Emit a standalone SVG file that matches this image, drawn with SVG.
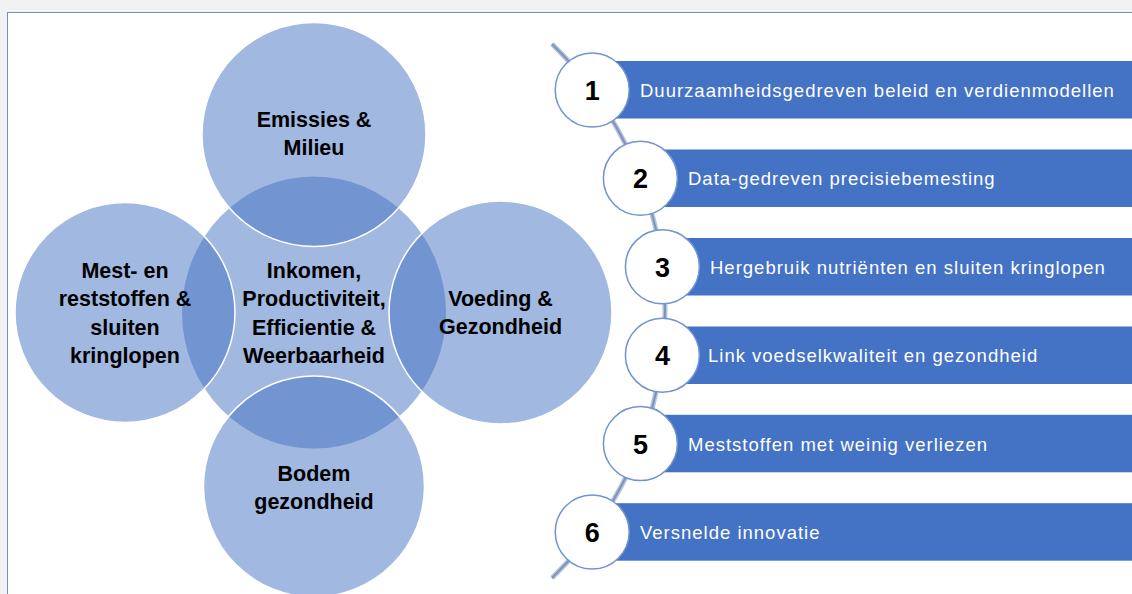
<svg xmlns="http://www.w3.org/2000/svg" width="1132" height="594" viewBox="0 0 1132 594">
  <style>
    .venn { fill: #4472C4; fill-opacity: 0.5; }
    .outer { stroke: #ffffff; stroke-width: 1.5; }
    .vt { font-family: "Liberation Sans", Arial, sans-serif; font-weight: bold; font-size: 21.5px; fill: #000000; text-anchor: middle; }
    .bar { fill: #4472C4; }
    .num { fill: #ffffff; stroke: #6f94d4; stroke-width: 1.5; }
    .nt { font-family: "Liberation Sans", Arial, sans-serif; font-weight: bold; font-size: 27px; fill: #000000; text-anchor: middle; }
    .bt { font-family: "Liberation Sans", Arial, sans-serif; font-size: 18.5px; letter-spacing: 1px; fill: #ffffff; }
  </style>
  <rect x="0" y="0" width="1132" height="594" fill="#f2f2f2"/>
  <rect x="7.5" y="12.5" width="1200" height="700" fill="#ffffff" stroke="#6f8fc8" stroke-width="1"/>

  <!-- Venn diagram -->
  <g id="node-center">
    <ellipse class="venn" cx="314" cy="312.5" rx="132" ry="136"/>
    <text class="vt" x="314" y="278">Inkomen,</text>
    <text class="vt" x="314" y="306">Productiviteit,</text>
    <text class="vt" x="314" y="334.5">Efficientie &amp;</text>
    <text class="vt" x="314" y="362.5">Weerbaarheid</text>
  </g>
  <g id="node-emissies">
    <circle class="venn outer" cx="314" cy="134.5" r="112"/>
    <text class="vt" x="314" y="127">Emissies &amp;</text>
    <text class="vt" x="314" y="154.5">Milieu</text>
  </g>
  <g id="node-mest">
    <circle class="venn outer" cx="125" cy="312.5" r="110"/>
    <text class="vt" x="125" y="278">Mest- en</text>
    <text class="vt" x="125" y="306">reststoffen &amp;</text>
    <text class="vt" x="125" y="334.5">sluiten</text>
    <text class="vt" x="125" y="362.5">kringlopen</text>
  </g>
  <g id="node-voeding">
    <circle class="venn outer" cx="500.5" cy="312.5" r="111.5"/>
    <text class="vt" x="500.5" y="306">Voeding &amp;</text>
    <text class="vt" x="500.5" y="333.5">Gezondheid</text>
  </g>
  <g id="node-bodem">
    <circle class="venn outer" cx="314" cy="486.5" r="110.5"/>
    <text class="vt" x="314" y="481">Bodem</text>
    <text class="vt" x="314" y="508.5">gezondheid</text>
  </g>

  <!-- connector: curved line -->
  <g id="connectors">
    <path d="M552,44 A372,372 0 0 1 552,578" fill="none" stroke="#b4c3de" stroke-width="5"/>
    <path d="M552,44 A372,372 0 0 1 552,578" fill="none" stroke="#7d93bc" stroke-width="2"/>
  </g>

  <!-- list items -->
  <g id="item-1">
    <rect class="bar" x="592" y="61" width="560" height="57.5"/>
    <circle class="num" cx="592.2" cy="90" r="37"/>
    <text class="nt" x="592.2" y="100">1</text>
    <text class="bt" x="640" y="97">Duurzaamheidsgedreven beleid en verdienmodellen</text>
  </g>
  <g id="item-2">
    <rect class="bar" x="640" y="149.5" width="520" height="57.5"/>
    <circle class="num" cx="640.4" cy="178.3" r="37"/>
    <text class="nt" x="640.4" y="188.3">2</text>
    <text class="bt" x="688" y="185.3">Data-gedreven precisiebemesting</text>
  </g>
  <g id="item-3">
    <rect class="bar" x="662" y="238" width="500" height="57.5"/>
    <circle class="num" cx="662.4" cy="266.8" r="37"/>
    <text class="nt" x="662.4" y="276.8">3</text>
    <text class="bt" x="710" y="273.8">Hergebruik nutriënten en sluiten kringlopen</text>
  </g>
  <g id="item-4">
    <rect class="bar" x="662" y="326.5" width="500" height="57.5"/>
    <circle class="num" cx="662.4" cy="355.2" r="37"/>
    <text class="nt" x="662.4" y="365.2">4</text>
    <text class="bt" x="708" y="362.2">Link voedselkwaliteit en gezondheid</text>
  </g>
  <g id="item-5">
    <rect class="bar" x="640" y="414.8" width="520" height="57.5"/>
    <circle class="num" cx="640.4" cy="443.6" r="37"/>
    <text class="nt" x="640.4" y="453.6">5</text>
    <text class="bt" x="688" y="450.6">Meststoffen met weinig verliezen</text>
  </g>
  <g id="item-6">
    <rect class="bar" x="592" y="503.2" width="560" height="57.5"/>
    <circle class="num" cx="592.2" cy="532" r="37"/>
    <text class="nt" x="592.2" y="542">6</text>
    <text class="bt" x="640" y="539">Versnelde innovatie</text>
  </g>
</svg>
